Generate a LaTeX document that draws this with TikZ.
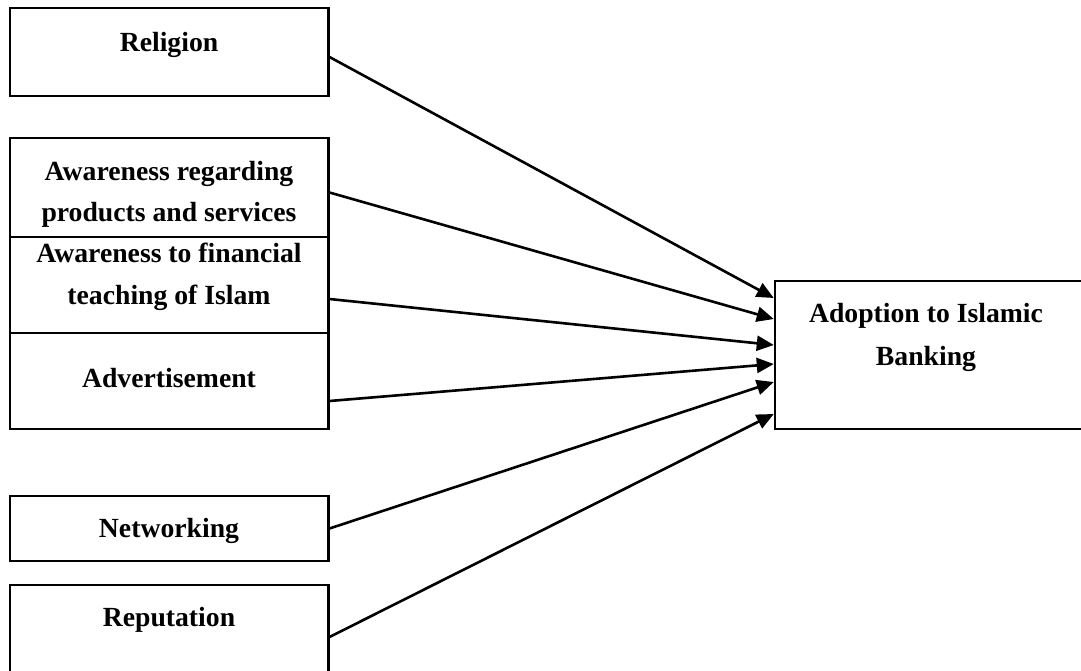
\documentclass[tikz,border=0pt]{standalone}
\usepackage{fontspec}
\setmainfont{Liberation Serif}
\usetikzlibrary{arrows.meta,calc}
\tikzset{
  box/.style={draw=black, line width=2.5pt, rectangle, inner sep=0pt},
  lbl/.style={anchor=base, inner sep=0pt, font=\fontsize{27.7}{41}\selectfont\bfseries},
  arr/.style={line width=2.6pt, -{Triangle[length=17pt,width=15pt]}}
}
\begin{document}
\begin{tikzpicture}[x=1pt,y=-1pt]
\useasboundingbox (0,0) rectangle (1081,670);
% boxes
\node[box, minimum width=318.5pt, minimum height=88pt] (rel) at (169,52) {};
\node[box, minimum width=318.5pt, minimum height=99pt] (aw1) at (169,187.5) {};
\node[box, minimum width=318.5pt, minimum height=96pt] (aw2) at (169,285) {};
\node[box, minimum width=318.5pt, minimum height=96pt] (adv) at (169,381) {};
\node[box, minimum width=318.5pt, minimum height=65pt] (net) at (169,528.5) {};
\node[box, minimum width=318.5pt, minimum height=95pt] (rep) at (169,632.5) {};
\node[box, minimum width=310pt, minimum height=148pt] (adopt) at (930,355) {};
% labels
\node[lbl] (t1) at (169,51) {Religion};
\node[lbl] (t2a) at (169,180) {Awareness regarding};
\node[lbl] (t2b) at (169,221) {products and services};
\node[lbl] (t3a) at (169,262.7) {Awareness to financial};
\node[lbl] (t3b) at (169,304) {teaching of Islam};
\node[lbl] (t4) at (169,387.7) {Advertisement};
\node[lbl] (t5) at (169,537) {Networking};
\node[lbl] (t6) at (169,626.7) {Reputation};
\node[lbl] (t7a) at (926,322.7) {Adoption to Islamic};
\node[lbl] (t7b) at (926,365) {Banking};
% arrows
\draw[arr] ($(rel.east)+(0,5)$) -- ($(adopt.west)+(0,-57)$);
\draw[arr] ($(aw1.east)+(0,5)$) -- ($(adopt.west)+(0,-36)$);
\draw[arr] ($(aw2.east)+(0,14)$) -- ($(adopt.west)+(0,-10)$);
\draw[arr] ($(adv.east)+(0,20)$) -- ($(adopt.west)+(0,9)$);
\draw[arr] (net.east) -- ($(adopt.west)+(0,27)$);
\draw[arr] ($(rep.east)+(0,4.5)$) -- ($(adopt.west)+(0,59)$);
\end{tikzpicture}
\end{document}
